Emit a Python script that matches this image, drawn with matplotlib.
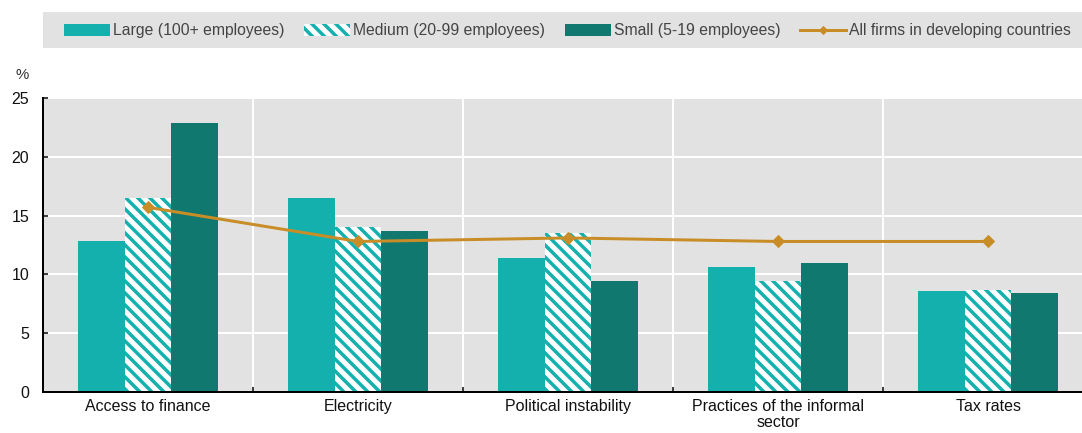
import matplotlib
matplotlib.use("Agg")
import matplotlib.pyplot as plt
import numpy as np
from matplotlib.patches import Rectangle
from matplotlib.lines import Line2D

categories = ["Access to finance", "Electricity", "Political instability",
              "Practices of the informal\nsector", "Tax rates"]
large = [12.8, 16.5, 11.4, 10.6, 8.6]
medium = [16.5, 14.0, 13.5, 9.4, 8.7]
small = [22.9, 13.7, 9.4, 11.0, 8.4]
all_firms = [15.7, 12.8, 13.1, 12.8, 12.8]

series_names = ["Large (100+ employees)", "Medium (20-99 employees)",
                "Small (5-19 employees)", "All firms in developing countries"]

c_large = '#13b0ae'
c_small = '#10786e'
c_line = '#c98d28'
bg = '#e2e2e2'

plt.rcParams['font.family'] = ['Liberation Sans', 'DejaVu Sans']
plt.rcParams['hatch.linewidth'] = 3.5

dpi = 72
fig = plt.figure(figsize=(1082 / dpi, 433 / dpi), dpi=dpi)
ax = fig.add_axes([43 / 1082, 41 / 433, 1050 / 1082, 294 / 433])
ax.set_facecolor(bg)

x = np.arange(len(categories))
w = 0.221
ax.bar(x - w, large, w, color=c_large, linewidth=0, zorder=2)
ax.bar(x, medium, w, color='white', edgecolor=c_large, hatch='\\\\', linewidth=0, zorder=2)
ax.bar(x + w, small, w, color=c_small, linewidth=0, zorder=2)
ax.plot(x, all_firms, color=c_line, lw=3, marker='D', ms=8, zorder=4)

ax.set_xlim(-0.5, len(categories) - 0.5)
ax.set_ylim(0, 25)
ax.set_yticks([0, 5, 10, 15, 20, 25])
ax.set_xticks(x)
ax.set_xticklabels(categories, fontsize=16, color='#111111', linespacing=1.05)
ax.set_xticks(np.arange(0.5, len(categories) - 0.5, 1), minor=True)
ax.tick_params(axis='x', which='major', length=0, pad=7)
ax.tick_params(axis='x', which='minor', direction='in', length=5, width=1.5, color='black')
ax.tick_params(axis='y', direction='in', length=5, width=1.5, labelsize=16, pad=14,
               labelcolor='#111111')

ax.grid(axis='y', which='major', color='white', lw=2, zorder=1)
ax.grid(axis='x', which='minor', color='white', lw=2, zorder=1)
ax.set_axisbelow(True)
for s in ['top', 'right']:
    ax.spines[s].set_visible(False)
ax.spines['left'].set_linewidth(2)
ax.spines['bottom'].set_linewidth(2)

fig.text(22 / 1082, 1 - 75 / 433, '%', fontsize=15, color='#333333', ha='center', va='center')

# legend strip
fig.patches.append(Rectangle((43 / 1082, 1 - 48 / 433), 1 - 43 / 1082, 36 / 433,
                             transform=fig.transFigure, facecolor=bg, edgecolor='none', zorder=0))
handles = [
    Rectangle((0, 0), 1, 1, facecolor=c_large, edgecolor='none'),
    Rectangle((0, 0), 1, 1, facecolor='white', edgecolor=c_large, hatch='\\\\', linewidth=0),
    Rectangle((0, 0), 1, 1, facecolor=c_small, edgecolor='none'),
    Line2D([0], [0], color=c_line, lw=3, marker='D', ms=6),
]
fig.legend(handles, series_names, loc='center left', bbox_to_anchor=(64 / 1082, 1 - 31 / 433),
           ncol=4, frameon=False, fontsize=15.8, handlelength=2.9, handleheight=0.8,
           handletextpad=0.2, columnspacing=1.25, labelcolor='#444444', borderpad=0,
           borderaxespad=0)

fig.savefig('out.png', dpi=dpi)
